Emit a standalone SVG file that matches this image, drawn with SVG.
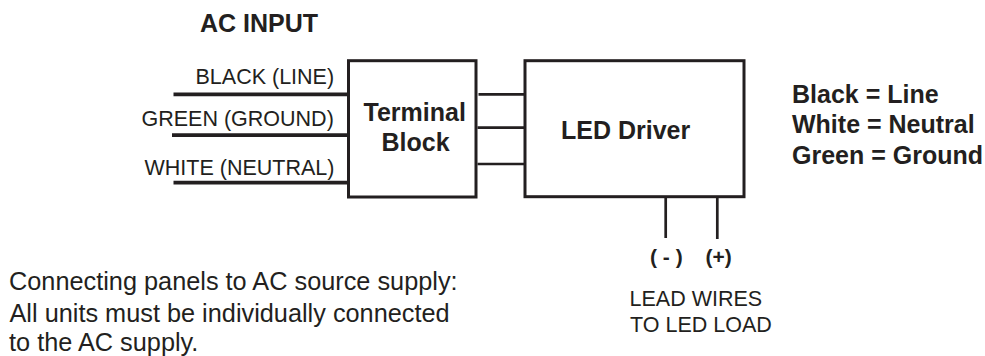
<svg xmlns="http://www.w3.org/2000/svg" width="985" height="356" viewBox="0 0 985 356">
<style>
text{font-family:"Liberation Sans",Arial,sans-serif;fill:#231f20}
.b{font-weight:bold}
.box{fill:#fff;stroke:#231f20;stroke-width:3}
.w{stroke:#231f20;stroke-width:2.7;fill:none}
.t{stroke:#231f20;stroke-width:3.8;fill:none}
.h{font-size:25px}
.l{font-size:21.5px}
.n{font-size:25.3px}
</style>
<rect width="985" height="356" fill="#fff"/>
<g id="connectors">
<path class="t" d="M173.500 94.300H348.500M172 135.200H348.500M173.500 182.700H348.500"/>
<path class="w" d="M478.500 94.300H525M477.500 127.700H525M477.500 164H525M665.700 196.700V238M717.300 196.700V239"/>
</g>
<g id="terminal-block"><rect class="box" x="348.500" y="60.700" width="127.500" height="136.300"/>
<text class="b h" x="414.700" y="120.700" text-anchor="middle">Terminal</text>
<text class="b h" x="415.500" y="150.700" text-anchor="middle">Block</text></g>
<g id="led-driver"><rect class="box" x="525" y="60.700" width="219" height="136"/>
<text class="b h" x="561" y="139.300">LED Driver</text></g>
<g id="labels">
<text class="b h" x="200" y="31.700">AC INPUT</text>
<text class="l" x="195.500" y="84">BLACK (LINE)</text>
<text class="l" x="141.500" y="125.800">GREEN (GROUND)</text>
<text class="l" x="144.500" y="175">WHITE (NEUTRAL)</text>
<text class="b h" x="792" y="103">Black = Line</text>
<text class="b h" x="792" y="133.300">White = Neutral</text>
<text class="b h" x="792" y="163.500">Green = Ground</text>
<text class="b" x="650" y="264" font-size="21">( - )</text>
<text class="b" x="705.500" y="264" font-size="21">(+)</text>
<text class="l" x="629.500" y="306">LEAD WIRES</text>
<text class="l" x="630" y="331.700">TO LED LOAD</text>
<text class="n" x="9" y="290">Connecting panels to AC source supply:</text>
<text class="n" x="9.500" y="321.500">All units must be individually connected</text>
<text class="n" x="9" y="351">to the AC supply.</text>
</g>
</svg>
